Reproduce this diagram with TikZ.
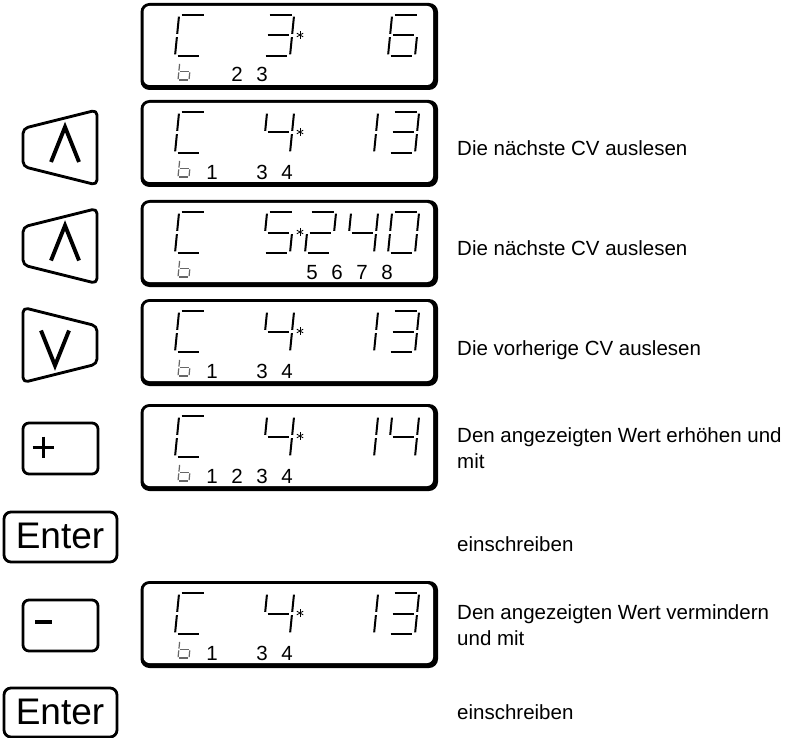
\documentclass[tikz,border=0pt]{standalone}
\usepackage{fontspec}
\setmainfont{Liberation Sans}
\newcommand\segW{27}
\newcommand\segH{41}
\newcommand\segG{1.6}
\newcommand\segI{2.6}
\newcommand\segLW{2pt}
\newcommand\drawseg[1]{%
 \if a#1\draw[segline] (\segI,\segH) -- (\segW-\segI,\segH);\fi
 \if b#1\draw[segline] (\segW,\segH/2+\segG) -- (\segW,\segH-\segG);\fi
 \if c#1\draw[segline] (\segW,\segG) -- (\segW,\segH/2-\segG);\fi
 \if d#1\draw[segline] (\segI,0) -- (\segW-\segI,0);\fi
 \if e#1\draw[segline] (0,\segG) -- (0,\segH/2-\segG);\fi
 \if f#1\draw[segline] (0,\segH/2+\segG) -- (0,\segH-\segG);\fi
 \if g#1\draw[segline] (\segI,\segH/2) -- (\segW-\segI,\segH/2);\fi}
\newcommand\sevseg[4][black]{%
 \begin{scope}[shift={(#2,#3)},x=1pt,y=1pt,xslant=0.1,#1]
 \foreach \s in {#4}{\drawseg{\s}}
 \end{scope}}
\newcommand\smallb[1]{%
 \begingroup\def\segW{11}\def\segH{17}\def\segG{0.9}\def\segI{1.2}\def\segLW{1.2pt}%
 \sevseg[black!60]{178}{#1+77}{c,d,e,f,g}\endgroup}
\newcommand\lcdframe[1]{%
 \fill[black,rounded corners=9pt] (140.5,#1) rectangle (438,#1+87);
 \fill[white,rounded corners=6pt] (143.5,#1+3) rectangle (433,#1+82);
 \sevseg{175}{#1+53}{a,d,e,f}%
 \foreach \a in {90,30,150}{\draw[line width=0.8pt] (300,#1+32) ++(\a:3.8) -- ++(\a+180:7.6);}}
\newcommand\upbtn[1]{%
 \draw[btn] (23,#1-19) -- (97,#1-37.5) -- (97,#1+37.5) -- (23,#1+19) -- cycle;
 \draw[glyph] (51,#1+14.5) -- (65,#1-20.5) -- (79,#1+14.5);}
\newcommand\downbtn[1]{%
 \draw[btn] (23,#1-37.5) -- (97,#1-19) -- (97,#1+19) -- (23,#1+37.5) -- cycle;
 \draw[glyph] (41,#1-14.5) -- (55,#1+20.5) -- (69,#1-14.5);}
\begin{document}
\begin{tikzpicture}[x=1pt,y=-1pt,
 segline/.style={line width=\segLW,line cap=butt},
 btn/.style={line width=2.8pt,rounded corners=5pt,line join=round},
 glyph/.style={line width=3.9pt,line join=miter},
 txt/.style={anchor=base west,inner sep=0pt,font=\fontsize{20.5}{24}\selectfont},
 sub/.style={anchor=base,inner sep=0pt,font=\fontsize{20.5}{24}\selectfont},
 enterbox/.style={line width=2.8pt,rounded corners=7pt},
 entertxt/.style={inner sep=0pt,font=\fontsize{37}{40}\selectfont}]
\useasboundingbox (0,0) rectangle (800,738);
% Display 1
\lcdframe{3}
\sevseg{263}{56}{a,b,c,d,g}
\sevseg{388}{56}{a,c,d,e,f,g}
\smallb{3}
\node[sub] (d1s2) at (237,82) {2};
\node[sub] (d1s3) at (262,82) {3};
% Display 2
\lcdframe{100}
\sevseg{263}{153}{b,c,f,g}
\sevseg{347}{153}{b,c}
\sevseg{388}{153}{a,b,c,d,g}
\smallb{100}
\node[sub] (d2s1) at (212,179) {1};
\node[sub] (d2s3) at (262,179) {3};
\node[sub] (d2s4) at (287,179) {4};
% Display 3
\lcdframe{200}
\sevseg{263}{253}{a,c,d,f,g}
\sevseg{305}{253}{a,b,d,e,g}
\sevseg{347}{253}{b,c,f,g}
\sevseg{388}{253}{a,b,c,d,e,f}
\smallb{200}
\node[sub] (d3s5) at (312,279) {5};
\node[sub] (d3s6) at (337,279) {6};
\node[sub] (d3s7) at (362,279) {7};
\node[sub] (d3s8) at (387,279) {8};
% Display 4
\lcdframe{299}
\sevseg{263}{352}{b,c,f,g}
\sevseg{347}{352}{b,c}
\sevseg{388}{352}{a,b,c,d,g}
\smallb{299}
\node[sub] (d4s1) at (212,378) {1};
\node[sub] (d4s3) at (262,378) {3};
\node[sub] (d4s4) at (287,378) {4};
% Display 5
\lcdframe{404}
\sevseg{263}{457}{b,c,f,g}
\sevseg{347}{457}{b,c}
\sevseg{388}{457}{b,c,f,g}
\smallb{404}
\node[sub] (d5s1) at (212,483) {1};
\node[sub] (d5s2) at (237,483) {2};
\node[sub] (d5s3) at (262,483) {3};
\node[sub] (d5s4) at (287,483) {4};
% Display 7
\lcdframe{581}
\sevseg{263}{634}{b,c,f,g}
\sevseg{347}{634}{b,c}
\sevseg{388}{634}{a,b,c,d,g}
\smallb{581}
\node[sub] (d7s1) at (212,660) {1};
\node[sub] (d7s3) at (262,660) {3};
\node[sub] (d7s4) at (287,660) {4};
% Buttons
\upbtn{147.5}
\upbtn{246}
\downbtn{345}
\draw[btn,rounded corners=6pt] (23,423) rectangle (98,474);
\draw[line width=3pt] (32.5,447) -- (53.5,447) (43,436.5) -- (43,457.5);
\draw[btn,rounded corners=6pt] (23,600) rectangle (98,651);
\draw[line width=3.5pt] (35,622) -- (52,622);
\draw[enterbox] (4,512) rectangle (117,562);
\node[entertxt] (enter1) at (60,536) {Enter};
\draw[enterbox] (4,688) rectangle (117,737);
\node[entertxt] (enter2) at (60,712) {Enter};
% Texts
\node[txt] (t2) at (457,156) {Die nächste CV auslesen};
\node[txt] (t3) at (457,255.5) {Die nächste CV auslesen};
\node[txt] (t4) at (457,355) {Die vorherige CV auslesen};
\node[txt] (t5a) at (457,442) {Den angezeigten Wert erhöhen und};
\node[txt] (t5b) at (457,468) {mit};
\node[txt] (t6) at (457,551) {einschreiben};
\node[txt] (t7a) at (457,619) {Den angezeigten Wert vermindern};
\node[txt] (t7b) at (457,645) {und mit};
\node[txt] (t8) at (457,719) {einschreiben};
\end{tikzpicture}
\end{document}
